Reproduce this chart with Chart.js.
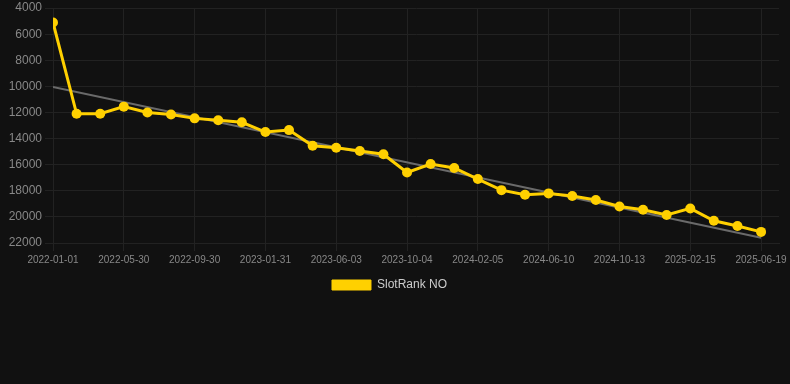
<!DOCTYPE html>
<html>
<head>
<meta charset="utf-8">
<script src="https://cdn.jsdelivr.net/npm/chart.js@4.4.1/dist/chart.umd.min.js"></script>
<style>
  html, body { margin: 0; padding: 0; background: #111111; }
  #wrap { width: 790px; height: 301px; }
</style>
</head>
<body>
<div id="wrap"><canvas id="rankChart"></canvas></div>
<script>
// dates of each point (only every 3rd one is shown on the axis)
var dates = ['2022-01-01', '2022-03-28', '2022-04-28', '2022-05-30', '2022-07-10', '2022-08-20',
    '2022-09-30', '2022-11-10', '2022-12-21', '2023-01-31', '2023-03-13', '2023-04-23',
    '2023-06-03', '2023-07-14', '2023-08-24', '2023-10-04', '2023-11-14', '2023-12-26',
    '2024-02-05', '2024-03-17', '2024-04-29', '2024-06-10', '2024-07-21', '2024-09-01',
    '2024-10-13', '2024-11-23', '2025-01-04', '2025-02-15', '2025-03-28', '2025-05-09',
    '2025-06-19'];
var ranks = [5100, 12100, 12100, 11550, 12000, 12150, 12450, 12600, 12750, 13500, 13350,
    14550, 14700, 14950, 15200, 16600, 15950, 16250, 17100, 17950, 18300, 18200, 18400,
    18700, 19200, 19450, 19850, 19350, 20300, 20700, 21150];
// trend line: first and last value
var trendIndex = [0, 30];
var trendValues = [10050, 21600];
var yTicks = [4000, 6000, 8000, 10000, 12000, 14000, 16000, 18000, 20000, 22000];

var rankPoints = ranks.map(function (v, i) { return { x: i, y: v }; });
var trendPoints = trendValues.map(function (v, i) { return { x: trendIndex[i], y: v }; });

var gridColor = '#222222';
var yellow = '#FFD000';
var font = 'Arial, "Liberation Sans", Helvetica, sans-serif';

new Chart(document.getElementById('rankChart'), {
    type: 'line',
    data: {
        datasets: [{
            label: 'SlotRank NO',
            data: rankPoints,
            borderColor: yellow,
            backgroundColor: yellow,
            borderWidth: 3,
            pointRadius: 5,
            pointBorderWidth: 0,
            pointBackgroundColor: yellow,
            pointBorderColor: yellow,
            tension: 0
        }, {
            label: 'trend',
            data: trendPoints,
            borderColor: '#6a6a6a',
            borderWidth: 2,
            pointRadius: 0,
            tension: 0
        }]
    },
    options: {
        animation: false,
        responsive: true,
        maintainAspectRatio: false,
        layout: { padding: { left: 0, right: 11, top: 0, bottom: 0 } },
        plugins: {
            tooltip: { enabled: false },
            legend: {
                position: 'bottom',
                labels: {
                    color: '#cccccc',
                    boxWidth: 39,
                    boxHeight: 10,
                    font: { family: font, size: 12 },
                    filter: function (item) { return item.datasetIndex === 0; },
                    generateLabels: function (chart) {
                        var items = Chart.defaults.plugins.legend.labels.generateLabels(chart);
                        items.forEach(function (it) { it.lineWidth = 1; });
                        return items;
                    }
                }
            }
        },
        scales: {
            x: {
                type: 'linear',
                min: 0,
                max: 30.76,
                grid: { color: gridColor, tickLength: 8 },
                border: { color: gridColor },
                ticks: {
                    stepSize: 3,
                    includeBounds: false,
                    maxRotation: 0,
                    autoSkip: false,
                    color: '#888888',
                    font: { family: font, size: 10 },
                    callback: function (value) {
                        return dates[value];
                    }
                }
            },
            y: {
                reverse: true,
                min: yTicks[0],
                max: yTicks[yTicks.length - 1],
                grid: { color: gridColor, tickLength: 8 },
                border: { color: gridColor },
                afterBuildTicks: function (axis) {
                    axis.ticks = yTicks.map(function (v) { return { value: v }; });
                },
                afterFit: function (axis) { axis.width = 53; },
                ticks: {
                    color: '#888888',
                    font: { family: font, size: 12, lineHeight: 0.85 },
                    padding: 3,
                    callback: function (value) { return String(value); }
                }
            }
        }
    }
});
</script>
</body>
</html>
